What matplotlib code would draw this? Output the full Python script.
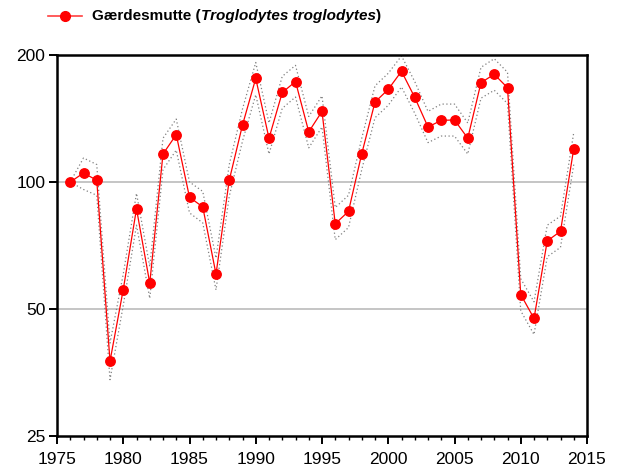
import matplotlib
matplotlib.use("Agg")
import matplotlib.pyplot as plt
from matplotlib.lines import Line2D
from matplotlib.ticker import FixedLocator, MultipleLocator, NullFormatter

plt.rcParams['font.family'] = ['Liberation Sans', 'DejaVu Sans']

years = list(range(1976, 2015))
index = [100, 105, 101, 37.6, 55.6, 86.4, 57.6, 116.5, 129.5, 92,
         87.3, 60.5, 101, 136.5, 176, 127, 163, 173, 131.5, 147,
         79.6, 85.2, 116.7, 154.7, 165.8, 183, 158.7, 135, 140, 140.3,
         127, 172, 180, 167.3, 54.1, 47.5, 72.5, 76.4, 120]
upper = [100, 114, 110, 41.5, 60.5, 94, 63, 127, 141, 100,
         95, 66, 110, 149, 192, 138, 178, 189, 143, 160,
         87, 93, 127, 169, 181, 199, 173, 147, 153, 153,
         138, 187, 196, 182, 59, 52, 79, 83, 131]
lower = [100, 96, 93, 34, 51, 79, 53, 107, 119, 84.5,
         80, 55.5, 92.5, 125, 161, 116.5, 149.5, 159, 120.5, 135,
         73, 78, 107, 142, 152, 168, 145.5, 124, 128.5, 128.5,
         116.5, 158, 165, 153.5, 49.5, 43.5, 66.5, 70, 110]
y_ticks = [25, 50, 100, 200]
species = "Gærdesmutte"
latin = "Troglodytes troglodytes"

fig = plt.figure(figsize=(6.19, 4.73), dpi=100)
ax = fig.add_axes([57 / 619, 1 - 436 / 473, 530 / 619, 381 / 473])

ax.set_yscale('log')
ax.set_ylim(25, 200)
ax.set_xlim(1975, 2015)

for v in (50, 100):
    ax.axhline(v, color='#c0c0c0', lw=1.3, zorder=1)

ax.plot(years, upper, color='#808080', lw=0.9, ls=(0, (1, 2)), zorder=2)
ax.plot(years, lower, color='#808080', lw=0.9, ls=(0, (1, 2)), zorder=2)
ax.plot(years, index, color='#ff0000', lw=0.9, marker='o', ms=6.8,
        mfc='#ff0000', mec='#ff0000', zorder=3)

ax.yaxis.set_major_locator(FixedLocator(y_ticks))
ax.yaxis.set_minor_locator(FixedLocator([]))
ax.yaxis.set_major_formatter(plt.FuncFormatter(lambda v, p: f"{int(v)}"))
ax.yaxis.set_minor_formatter(NullFormatter())
ax.xaxis.set_major_locator(MultipleLocator(5))
ax.xaxis.set_minor_locator(MultipleLocator(1))

for s in ax.spines.values():
    s.set_linewidth(1.8)
    s.set_color('black')
ax.tick_params(axis='both', which='major', direction='out', length=5.5, width=1.4,
               labelsize=12.5, colors='black')
ax.tick_params(axis='x', which='major', pad=6)
ax.tick_params(axis='y', which='major', pad=3)
ax.tick_params(axis='x', which='minor', direction='out', length=3, width=1)

# legend, drawn by hand so the latin name can be italic
ly = 1 - 16 / 473
fig.add_artist(Line2D([48 / 619, 82 / 619], [ly, ly], color='#ff4040', lw=1.2,
                      transform=fig.transFigure))
fig.add_artist(Line2D([65 / 619], [ly], marker='o', ms=7, color='#ff0000',
                      transform=fig.transFigure))

fig.canvas.draw()
r = fig.canvas.get_renderer()
x = 92 / 619
parts = [(species + " (", 'normal'), (latin, 'italic'), (")", 'normal')]
for txt, style in parts:
    t = fig.text(x, ly, txt, fontsize=11, weight='bold', style=style, va='center')
    bb = t.get_window_extent(renderer=r)
    x = fig.transFigure.inverted().transform((bb.x1, bb.y0))[0]

fig.savefig("out.png", dpi=100)
